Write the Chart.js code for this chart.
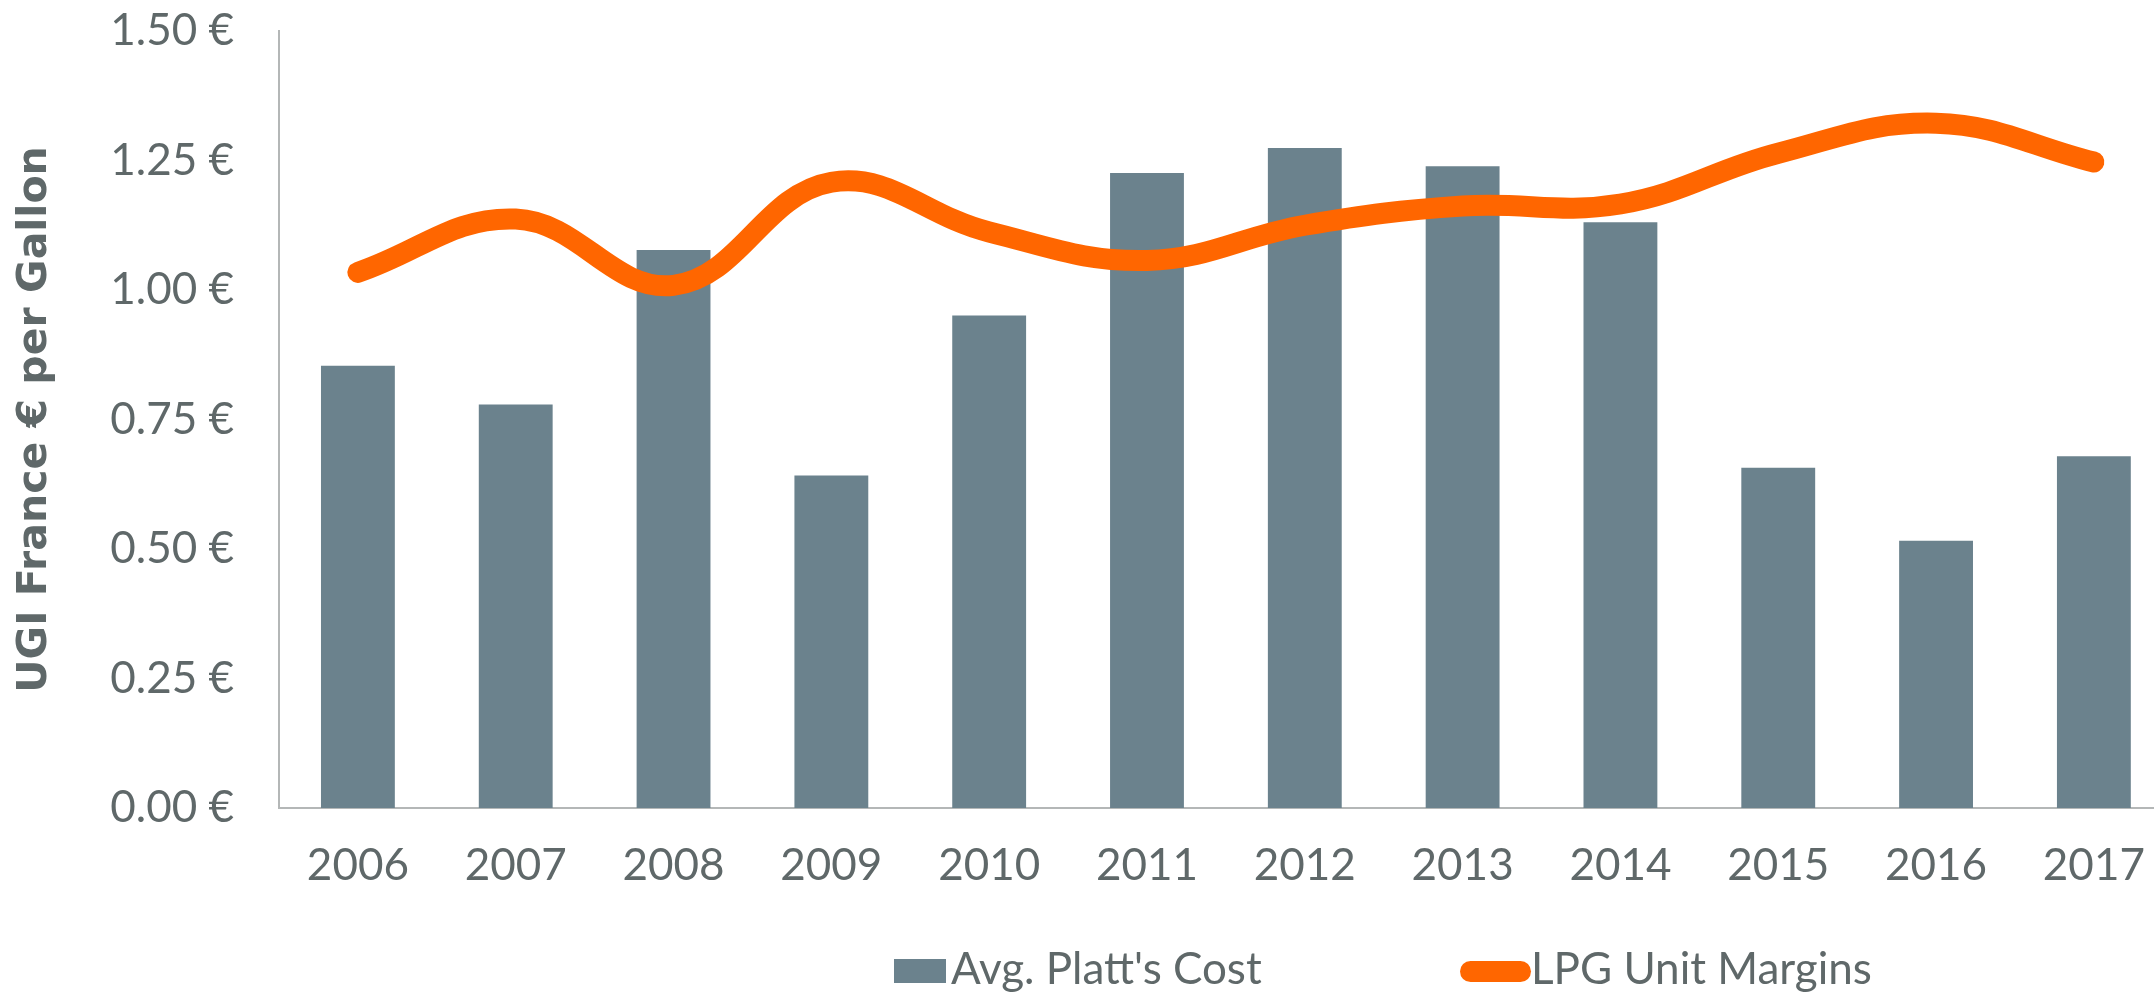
<!DOCTYPE html>
<html>
<head>
<meta charset="utf-8">
<title>UGI France</title>
<script src="https://cdn.jsdelivr.net/npm/chart.js@4/dist/chart.umd.min.js"></script>
<style>
  html, body { margin: 0; padding: 0; background: #ffffff; overflow: hidden; }
  #wrap { position: relative; width: 2176px; height: 996px; }
  #chart { position: absolute; left: 0; top: 0; }
  .legend-box { position: absolute; }
  .legend-text {
    position: absolute;
    font-family: Lato, sans-serif;
    font-size: 44px;
    line-height: 44px;
    color: #5f6869;
    white-space: nowrap;
  }
</style>
</head>
<body>
<div id="wrap">
  <canvas id="chart" width="2176" height="996"></canvas>
  <div class="legend-box" style="left:894px; top:959px; width:52px; height:24px; background:#6b828d;"></div>
  <div class="legend-text" style="left:951px; top:945px;">Avg. Platt's Cost</div>
  <div class="legend-box" style="left:1460px; top:961px; width:71px; height:21px; border-radius:11px; background:#ff6600;"></div>
  <div class="legend-text" style="left:1531px; top:945px;">LPG Unit Margins</div>
</div>

<script>
// -------------------------
// Data
// -------------------------
const years = ["2006", "2007", "2008", "2009", "2010", "2011", "2012", "2013", "2014", "2015", "2016", "2017"];
const plattCost = [0.854, 0.779, 1.077, 0.642, 0.951, 1.226, 1.274, 1.239, 1.131, 0.657, 0.516, 0.679];
const unitMargins = [1.034, 1.137, 1.009, 1.208, 1.112, 1.057, 1.125, 1.162, 1.166, 1.264, 1.322, 1.247];
const yTicks = [0, 0.25, 0.5, 0.75, 1.0, 1.25, 1.5];

const textGray = "#5f6869";
const axisGray = "#b4b7b7";

// -------------------------
// Chart
// -------------------------
const ctx = document.getElementById("chart").getContext("2d");

new Chart(ctx, {
  data: {
    labels: years,
    datasets: [
      {
        type: "line",
        label: "LPG Unit Margins",
        data: unitMargins,
        borderColor: "#ff6600",
        borderWidth: 21,
        borderCapStyle: "round",
        borderJoinStyle: "round",
        tension: 0.4,
        pointRadius: 0,
        fill: false,
        clip: false,
        order: 0,
      },
      {
        type: "bar",
        label: "Avg. Platt's Cost",
        data: plattCost,
        backgroundColor: "#6b828d",
        categoryPercentage: 1,
        barPercentage: 0.468,
        order: 1,
      },
    ],
  },
  options: {
    responsive: false,
    animation: false,
    layout: { padding: { left: 0, right: 2, top: 31, bottom: 0 } },
    plugins: {
      legend: { display: false },
      tooltip: { enabled: false },
    },
    scales: {
      x: {
        offset: true,
        grid: { display: false, drawTicks: false },
        border: { display: true, color: axisGray, width: 2 },
        ticks: {
          color: textGray,
          font: { family: "Lato", size: 44 },
          padding: 31,
          maxRotation: 0,
          autoSkip: false,
        },
        afterFit: (s) => { s.height = 188; },
      },
      y: {
        min: 0,
        max: 1.5,
        afterBuildTicks: (s) => { s.ticks = yTicks.map((v) => ({ value: v })); },
        grid: { display: false, drawTicks: false },
        border: { display: true, color: axisGray, width: 2 },
        ticks: {
          color: textGray,
          font: { family: "Lato", size: 44 },
          padding: 45,
          callback: (v) => v.toFixed(2) + " €",
        },
        title: {
          display: true,
          text: "UGI France € per Gallon",
          color: textGray,
          font: { family: "DejaVu Sans", size: 41, weight: "bold" },
          padding: { top: 11, bottom: 0 },
        },
        afterFit: (s) => {
          s.width = 279;
          // tick padding also pads the ends of the axis; keep only half a label
          s.paddingTop = 26;
          s.paddingBottom = 26;
        },
      },
    },
  },
});
</script>
</body>
</html>
